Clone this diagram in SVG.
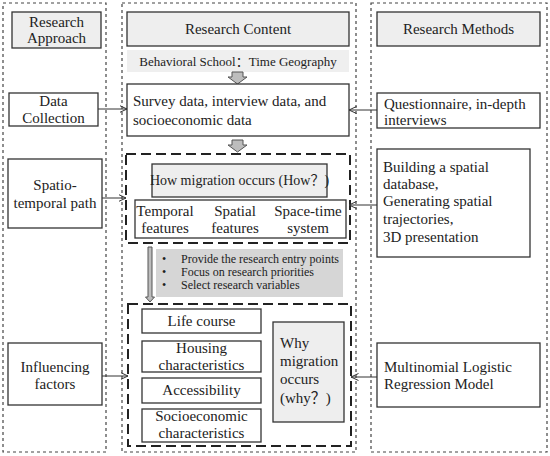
<svg xmlns="http://www.w3.org/2000/svg" width="550" height="456" viewBox="0 0 550 456">
<defs>
<marker id="arr" viewBox="0 0 8 8" refX="7.5" refY="4" markerWidth="8" markerHeight="8" markerUnits="userSpaceOnUse" orient="auto">
<path d="M0,0.5 L7.5,4 L0,7.5" fill="none" stroke="#333" stroke-width="1"/>
</marker>
</defs>
<style>
text{font-family:"Liberation Serif","Times New Roman","Noto Sans CJK SC",serif;fill:#222;}
.col{fill:none;stroke:#444;stroke-width:1.2;stroke-dasharray:3,3;}
.box{fill:#fff;stroke:#333;stroke-width:1.3;}
.hdr{fill:#eeeeee;stroke:#333;stroke-width:1.3;}
.dash{fill:none;stroke:#222;stroke-width:2;stroke-dasharray:10,5;}
.blk{fill:#bdbdbd;stroke:#555;stroke-width:1;}
.t16{font-size:15px;}
.t15{font-size:14px;}
.t13{font-size:13px;}
.t12{font-size:12px;}
.c{text-anchor:middle;}
.conn{stroke:#333;stroke-width:1;fill:none;marker-end:url(#arr);}
</style>
<rect class="col" x="3" y="3" width="103" height="449"/>
<rect class="col" x="122" y="3" width="234" height="449"/>
<rect class="col" x="371" y="3" width="176" height="449"/>

<g id="research-approach">
<rect class="hdr" x="12" y="12" width="89" height="36"/>
<text class="t16 c" x="56.5" y="27">Research</text>
<text class="t16 c" x="56.5" y="43">Approach</text>
</g>
<g id="research-content">
<rect class="hdr" x="127" y="12" width="222" height="34"/>
<text class="t16 c" x="238" y="34">Research Content</text>
</g>
<g id="research-methods">
<rect class="hdr" x="377" y="12" width="163" height="34"/>
<text class="t16 c" x="458.5" y="34">Research Methods</text>
</g>
<g id="theory">
<rect x="127" y="50" width="222" height="22" fill="#efefef"/>
<text class="t13 c" x="238" y="66">Behavioral School：Time Geography</text>
</g>
<g id="arrow1">
<path class="blk" d="M232,72 H243 V77 H247 L237.5,84 L228,77 H232 Z"/>
</g>
<g id="survey-data">
<rect class="box" x="127" y="84" width="222" height="52"/>
<text class="t16" x="133" y="106">Survey data, interview data, and</text>
<text class="t16" x="133" y="125">socioeconomic data</text>
</g>
<g id="arrow2">
<path class="blk" d="M232,140 H243 V145 H247 L237.5,152 L228,145 H232 Z"/>
</g>
<g id="how-group">
<rect class="dash" x="126" y="154" width="224" height="89"/>
<g id="how">
<rect class="hdr" x="152" y="164" width="175" height="33"/>
<text class="t15 c" x="239.5" y="185">How migration occurs (How？)</text>
</g>
<g id="features">
<rect class="box" x="135" y="200" width="211" height="38"/>
<text class="t16 c" x="165" y="216">Temporal</text>
<text class="t16 c" x="165" y="233">features</text>
<text class="t16 c" x="235" y="216">Spatial</text>
<text class="t16 c" x="235" y="233">features</text>
<text class="t16 c" x="308" y="216">Space-time</text>
<text class="t16 c" x="308" y="233">system</text>
</g>
</g>
<g id="arrow3">
<path class="blk" d="M148,247 H152 V297 H154.5 L150,302 L145.5,297 H148 Z"/>
</g>
<g id="bullets">
<rect x="156" y="249" width="187" height="48" fill="#d6d6d6"/>
<text class="t12" x="162" y="263">•</text>
<text class="t12" x="181" y="263">Provide the research entry points</text>
<text class="t12" x="162" y="276">•</text>
<text class="t12" x="181" y="276">Focus on research priorities</text>
<text class="t12" x="162" y="289">•</text>
<text class="t12" x="181" y="289">Select research variables</text>
</g>
<g id="why-group">
<rect class="dash" x="128" y="304" width="223" height="142"/>
<g id="life-course">
<rect class="box" x="142" y="309" width="119" height="24"/>
<text class="t16 c" x="201.5" y="326">Life course</text>
</g>
<g id="housing">
<rect class="box" x="142" y="341" width="119" height="31"/>
<text class="t16 c" x="201.5" y="353">Housing</text>
<text class="t16 c" x="201.5" y="370">characteristics</text>
</g>
<g id="accessibility">
<rect class="box" x="142" y="378" width="119" height="25"/>
<text class="t16 c" x="201.5" y="395">Accessibility</text>
</g>
<g id="socioeconomic">
<rect class="box" x="142" y="409" width="119" height="33"/>
<text class="t16 c" x="201.5" y="421">Socioeconomic</text>
<text class="t16 c" x="201.5" y="438">characteristics</text>
</g>
<g id="why">
<rect class="hdr" x="273" y="322" width="71" height="100"/>
<text class="t16" x="280" y="348">Why</text>
<text class="t16" x="280" y="366">migration</text>
<text class="t16" x="280" y="384">occurs</text>
<text class="t16" x="280" y="403">(why？)</text>
</g>
</g>

<g id="data-collection">
<rect class="box" x="9" y="93" width="89" height="33"/>
<text class="t16 c" x="53.5" y="106">Data</text>
<text class="t16 c" x="53.5" y="123">Collection</text>
</g>
<g id="spatio-temporal">
<rect class="box" x="8" y="159" width="94" height="69"/>
<text class="t16 c" x="55" y="190">Spatio-</text>
<text class="t16 c" x="55" y="208">temporal path</text>
</g>
<g id="influencing">
<rect class="box" x="8" y="343" width="94" height="62"/>
<text class="t16 c" x="55" y="372">Influencing</text>
<text class="t16 c" x="55" y="389">factors</text>
</g>

<g id="questionnaire">
<rect class="box" x="377" y="93" width="163" height="35"/>
<text class="t16" x="384" y="109">Questionnaire, in-depth</text>
<text class="t16" x="384" y="125">interviews</text>
</g>
<g id="building">
<rect class="box" x="377" y="149" width="153" height="108"/>
<text class="t16" x="383" y="172">Building a spatial</text>
<text class="t16" x="383" y="189">database,</text>
<text class="t16" x="383" y="206">Generating spatial</text>
<text class="t16" x="383" y="224">trajectories,</text>
<text class="t16" x="383" y="242">3D presentation</text>
</g>
<g id="multinomial">
<rect class="box" x="377" y="343" width="163" height="64"/>
<text class="t16" x="384" y="372">Multinomial Logistic</text>
<text class="t16" x="384" y="389">Regression Model</text>
</g>

<g id="connectors">
<line class="conn" x1="98" y1="109" x2="127" y2="109"/>
<line class="conn" x1="377" y1="110" x2="349" y2="110"/>
<line class="conn" x1="102" y1="198" x2="126" y2="198"/>
<line class="conn" x1="377" y1="205" x2="349" y2="205"/>
<line class="conn" x1="102" y1="376" x2="128" y2="376"/>
<line class="conn" x1="377" y1="377" x2="351" y2="377"/>
</g>
</svg>
